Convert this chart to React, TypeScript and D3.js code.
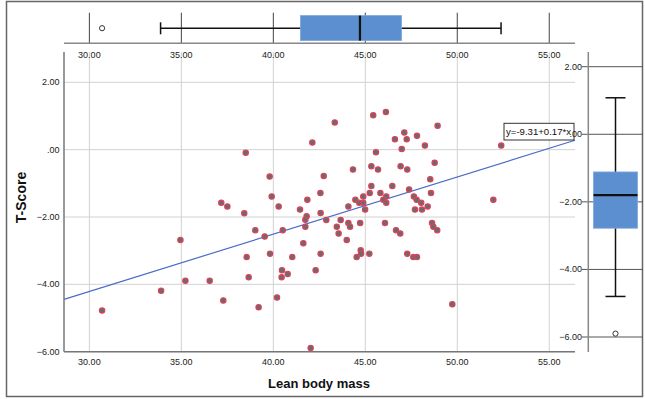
import * as d3 from 'd3'

// Lean body mass (x) vs T-Score (y)
const leanMass = [
  38.5, 39.8, 42.12, 39.91, 37.17, 37.5, 40.29, 41.85, 41.45, 42.56,
  38.42, 41.81, 41.74, 41.74, 42.57, 39.02, 40.51, 39.53, 34.95, 41.63,
  38.55, 39.82, 41.03, 42.57, 40.47, 40.45, 40.78, 42.3, 38.66, 35.22,
  36.54, 33.9, 37.28, 39.2, 40.2, 30.69, 42.03, 46.12, 45.43, 43.34,
  48.93, 47.12, 47.81, 46.61, 47.25, 52.39, 48.24, 46.98, 45.58, 44.33,
  45.33, 45.69, 46.92, 47.28, 48.77, 42.74, 48.53, 45.33, 46.47, 45.24,
  45.82, 47.38, 48.57, 44.89, 44.46, 44.67, 44.89, 46.14, 45.98, 46.14,
  47.64, 47.79, 48.04, 48.39, 44.08, 51.96, 44.99, 47.7, 48.08, 42.88,
  43.66, 44.08, 44.72, 43.45, 44.17, 43.55, 46.07, 46.67, 46.9, 43.99,
  48.63, 48.7, 48.91, 44.75, 44.77, 44.53, 45.22, 47.28, 47.61, 47.81,
  49.73,
]
const tScore = [
  -0.09, -0.8, 0.21, -1.39, -1.58, -1.69, -1.69, -1.49, -1.78, -1.29,
  -1.89, -1.98, -2.08, -2.29, -1.88, -2.39, -2.39, -2.58, -2.68, -2.78,
  -3.19, -3.09, -3.19, -3.09, -3.58, -3.79, -3.69, -3.58, -3.79, -3.89,
  -3.89, -4.19, -4.48, -4.68, -4.39, -4.78, -5.89, 1.12, 1.02, 0.81,
  0.71, 0.51, 0.41, 0.31, 0.31, 0.12, 0.12, 0.02, -0.08, -0.59,
  -0.49, -0.59, -0.49, -0.59, -0.39, -0.78, -0.88, -1.08, -1.08, -1.29,
  -1.29, -1.18, -1.29, -1.39, -1.49, -1.58, -1.58, -1.39, -1.49, -1.58,
  -1.39, -1.49, -1.58, -1.69, -1.69, -1.49, -1.78, -1.78, -1.78, -2.09,
  -2.09, -2.18, -2.18, -2.29, -2.29, -2.49, -2.18, -2.39, -2.49, -2.68,
  -2.18, -2.29, -2.39, -2.99, -3.09, -3.19, -3.09, -3.09, -3.19, -3.19,
  -4.59,
]

const xTicks = [30, 35, 40, 45, 50, 55]
const yTicks = [2, 0, -2, -4, -6]

// boxplot summaries: [whiskerLow, q1, median, q3, whiskerHigh]
const massBox = [33.87, 41.47, 44.71, 46.97, 52.38]
const massOutliers = [30.69]
const scoreBox = [-4.8, -2.78, -1.8, -1.115, 1.08]
const scoreOutliers = [-5.9]

const intercept = -9.31
const slope = 0.17

const fmt = (v: number) => (v === 0 ? '.00' : d3.format('.2f')(v))

export default function App() {
  const W = 645
  const H = 399
  const x = d3.scaleLinear().domain([28.62, 56.4]).range([64, 575])
  const y = d3.scaleLinear().domain([-6, 2.9]).range([351.7, 52])
  const yr = d3.scaleLinear().domain([-6, 2]).range([337, 66.7])

  const font = '"Liberation Sans", Arial, sans-serif'
  const boxFill = '#5b8fcf'
  const points = leanMass.map((v, i) => [v, tScore[i]])
  const [x0, x1] = x.domain()
  const line = d3.line<number>().x(d => x(d)).y(d => y(intercept + slope * d))

  // top boxplot geometry
  const tTop = 15.6, tBot = 40.6, tMid = 28.2, tAxis = 43.3
  // right boxplot geometry
  const rCx = 615.5, rHalf = 22, rCap = 10, rAxis = 588.3

  return (
    <svg width={W} height={H} style={{ position: 'absolute', left: 0, top: 0, background: '#fff' }} fontFamily={font}>
      <rect x={6.5} y={1.5} width={636} height={395} fill="#fff" stroke="#666" strokeWidth={1.5} />

      {/* main grid */}
      {xTicks.map(t => (
        <line key={'gx' + t} x1={x(t)} x2={x(t)} y1={52} y2={351.7} stroke="#d2d2d2" strokeWidth={1} />
      ))}
      {yTicks.map(t => (
        <line key={'gy' + t} x1={64} x2={575} y1={y(t)} y2={y(t)} stroke="#d2d2d2" strokeWidth={1} />
      ))}

      {/* regression line */}
      <path d={line([x0, x1]) || ''} fill="none" stroke="#4a6cc9" strokeWidth={1.2} />

      {/* points */}
      {points.map((p, i) => (
        <circle key={i} cx={x(p[0])} cy={y(p[1])} r={2.7} fill="#6b6b6b" stroke="#e2405a" strokeWidth={1.1} />
      ))}

      {/* main axes */}
      <line x1={64} x2={64} y1={52} y2={351.7} stroke="#777" strokeWidth={1.5} />
      <line x1={64} x2={575} y1={351.7} y2={351.7} stroke="#777" strokeWidth={1.5} />
      {xTicks.map(t => (
        <text key={'bx' + t} x={x(t)} y={364.5} fontSize={9} textAnchor="middle" fill="#222">{fmt(t)}</text>
      ))}
      {yTicks.map(t => (
        <text key={'ly' + t} x={59.5} y={y(t) + 3} fontSize={9} textAnchor="end" fill="#222">{fmt(t)}</text>
      ))}
      <text x={319} y={388} fontSize={13} fontWeight="bold" textAnchor="middle" fill="#111">Lean body mass</text>
      <text transform={`translate(26,197.5) rotate(-90)`} fontSize={14} fontWeight="bold" textAnchor="middle" fill="#111">T-Score</text>

      {/* equation label */}
      <rect x={504} y={123.3} width={70} height={16.7} fill="#fff" stroke="#333" strokeWidth={1} />
      <text x={506} y={135} fontSize={9.6} fill="#111">y=-9.31+0.17*x</text>

      {/* top boxplot */}
      {xTicks.map(t => (
        <line key={'tg' + t} x1={x(t)} x2={x(t)} y1={12.7} y2={tAxis} stroke="#444" strokeWidth={1} />
      ))}
      <line x1={64} x2={575} y1={tAxis} y2={tAxis} stroke="#888" strokeWidth={1.5} />
      {xTicks.map(t => (
        <text key={'tl' + t} x={x(t)} y={58} fontSize={9} textAnchor="middle" fill="#222">{fmt(t)}</text>
      ))}
      <line x1={x(massBox[0])} x2={x(massBox[4])} y1={tMid} y2={tMid} stroke="#111" strokeWidth={1.5} />
      <line x1={x(massBox[0])} x2={x(massBox[0])} y1={22.3} y2={34.3} stroke="#111" strokeWidth={1.5} />
      <line x1={x(massBox[4])} x2={x(massBox[4])} y1={22.3} y2={34.3} stroke="#111" strokeWidth={1.5} />
      <rect x={x(massBox[1])} y={tTop} width={x(massBox[3]) - x(massBox[1])} height={tBot - tTop} fill={boxFill} stroke="#7ea8d9" strokeWidth={0.8} />
      <line x1={x(massBox[2])} x2={x(massBox[2])} y1={tTop} y2={tBot} stroke="#111" strokeWidth={2.2} />
      {massOutliers.map(o => (
        <circle key={'mo' + o} cx={x(o)} cy={tMid} r={2.6} fill="#fff" stroke="#333" strokeWidth={1} />
      ))}

      {/* right boxplot */}
      {yTicks.map(t => (
        <line key={'rg' + t} x1={582} x2={643} y1={yr(t)} y2={yr(t)} stroke="#555" strokeWidth={1} />
      ))}
      <line x1={rAxis} x2={rAxis} y1={52} y2={352} stroke="#888" strokeWidth={1.5} />
      {yTicks.map(t => (
        <text key={'rl' + t} x={582} y={yr(t) + 3} fontSize={9} textAnchor="end" fill="#222">{fmt(t)}</text>
      ))}
      <line x1={rCx} x2={rCx} y1={yr(scoreBox[0])} y2={yr(scoreBox[4])} stroke="#111" strokeWidth={1.5} />
      <line x1={rCx - rCap} x2={rCx + rCap} y1={yr(scoreBox[0])} y2={yr(scoreBox[0])} stroke="#111" strokeWidth={1.5} />
      <line x1={rCx - rCap} x2={rCx + rCap} y1={yr(scoreBox[4])} y2={yr(scoreBox[4])} stroke="#111" strokeWidth={1.5} />
      <rect x={rCx - rHalf} y={yr(scoreBox[3])} width={rHalf * 2} height={yr(scoreBox[1]) - yr(scoreBox[3])} fill={boxFill} stroke="#7ea8d9" strokeWidth={0.8} />
      <line x1={rCx - rHalf} x2={rCx + rHalf} y1={yr(scoreBox[2])} y2={yr(scoreBox[2])} stroke="#111" strokeWidth={2.2} />
      {scoreOutliers.map(o => (
        <circle key={'so' + o} cx={rCx} cy={yr(o)} r={2.6} fill="#fff" stroke="#333" strokeWidth={1} />
      ))}
    </svg>
  )
}
